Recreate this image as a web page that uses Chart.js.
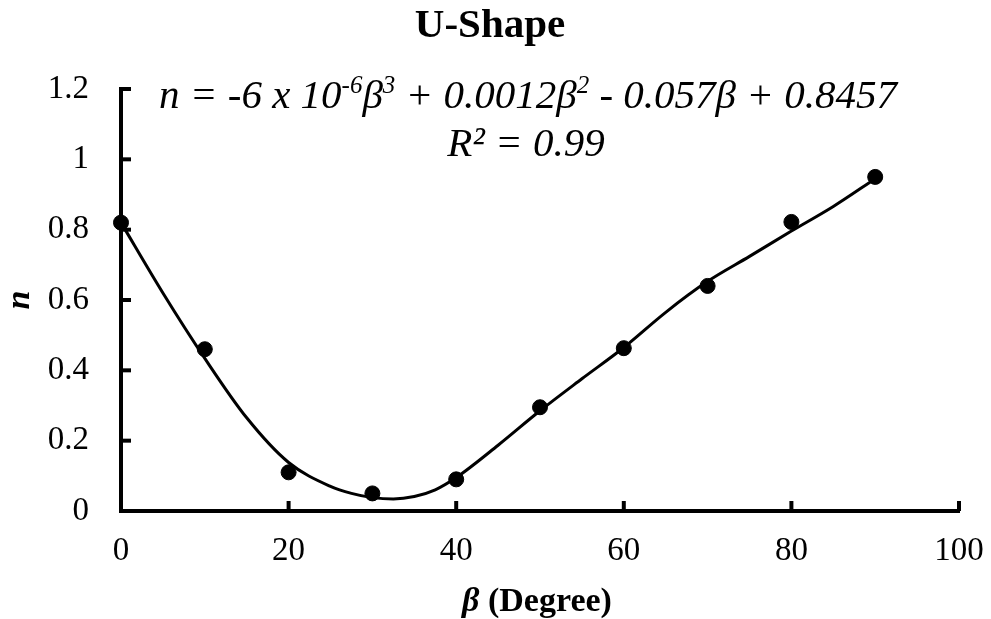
<!DOCTYPE html>
<html>
<head>
<meta charset="utf-8">
<title>U-Shape</title>
<script src="https://cdn.jsdelivr.net/npm/chart.js@4.4.1/dist/chart.umd.min.js"></script>
<style>
  html, body { margin: 0; padding: 0; background: #fff; }
  #wrap { width: 991px; height: 619px; }
</style>
</head>
<body>
<div id="wrap"><canvas id="uShapeChart" width="991" height="619"></canvas></div>
<script>
// measured n at each inclination angle
const angles = [0, 10, 20, 30, 40, 50, 60, 70, 80, 90];
const nValues = [0.82, 0.46, 0.11, 0.05, 0.09, 0.295, 0.463, 0.64, 0.822, 0.95];

// smoothed trend line through the measurements
const fitAngles = [0, 5, 10, 15, 20, 25, 27.5, 30, 32.5, 35, 37.5, 40, 45, 50, 55, 60, 65, 70, 75, 80, 85, 90];
const fitValues = [0.82, 0.62, 0.434, 0.265, 0.138, 0.07, 0.05, 0.038, 0.034, 0.041, 0.06, 0.095, 0.187, 0.285, 0.376, 0.465, 0.565, 0.653, 0.724, 0.796, 0.866, 0.945];

const xTicks = [0, 20, 40, 60, 80, 100];
const yTicks = [0, 0.2, 0.4, 0.6, 0.8, 1, 1.2];

const SERIF = '"Liberation Serif", "Times New Roman", serif';

// tick marks pointing into the plot area
const innerTicks = {
  id: 'innerTicks',
  afterDraw(chart) {
    const {ctx, chartArea, scales} = chart;
    ctx.save();
    ctx.strokeStyle = '#000';
    ctx.lineWidth = 4;
    ctx.lineCap = 'butt';
    yTicks.slice(1).forEach(v => {
      const y = scales.y.getPixelForValue(v);
      ctx.beginPath();
      ctx.moveTo(chartArea.left, y);
      ctx.lineTo(chartArea.left + 10, y);
      ctx.stroke();
    });
    xTicks.slice(1).forEach(v => {
      const x = scales.x.getPixelForValue(v);
      ctx.beginPath();
      ctx.moveTo(x, chartArea.bottom);
      ctx.lineTo(x, chartArea.bottom - 10);
      ctx.stroke();
    });
    ctx.restore();
  }
};

// title, x axis title with italic beta, and the regression equation
const textLayer = {
  id: 'textLayer',
  afterDraw(chart) {
    const {ctx, chartArea} = chart;
    ctx.save();
    ctx.fillStyle = '#000';
    ctx.textBaseline = 'alphabetic';

    ctx.textAlign = 'center';
    ctx.font = 'bold 41px ' + SERIF;
    ctx.fillText('U-Shape', 490, 37);

    ctx.textAlign = 'left';
    // "β (Degree)"
    const fBeta = 'italic bold 34px ' + SERIF;
    const fRest = 'bold 34px ' + SERIF;
    ctx.font = fBeta;
    const wBeta = ctx.measureText('β').width;
    ctx.font = fRest;
    const wRest = ctx.measureText(' (Degree)').width;
    let x = (chartArea.left + chartArea.right) / 2 - 3 - (wBeta + wRest) / 2;
    ctx.font = fBeta;
    ctx.fillText('β', x, 611);
    ctx.font = fRest;
    ctx.fillText(' (Degree)', x + wBeta, 611);

    // equation, runs of [text, superscript?]
    const size = 41;
    const runs = [
      ['n = -6 x 10', false], ['-6', true], ['β', false], ['3', true],
      [' + 0.0012β', false], ['2', true], [' - 0.057β + 0.8457', false]
    ];
    const base = 'italic ' + size + 'px ' + SERIF;
    const sup = 'italic ' + Math.round(size * 0.6) + 'px ' + SERIF;
    let total = 0;
    runs.forEach(([t, s]) => { ctx.font = s ? sup : base; total += ctx.measureText(t).width; });
    x = 528 - total / 2;
    runs.forEach(([t, s]) => {
      ctx.font = s ? sup : base;
      ctx.fillText(t, x, s ? 108 - size * 0.36 : 108);
      x += ctx.measureText(t).width;
    });
    ctx.font = base;
    ctx.textAlign = 'center';
    ctx.fillText('R² = 0.99', 526, 156);
    ctx.restore();
  }
};

new Chart(document.getElementById('uShapeChart'), {
  type: 'scatter',
  data: {
    datasets: [
      {
        label: 'n',
        data: angles.map((a, i) => ({x: a, y: nValues[i]})),
        backgroundColor: '#000',
        borderColor: '#000',
        pointRadius: 7.5,
        pointHoverRadius: 7.5,
        clip: false
      },
      {
        label: 'trend',
        data: fitAngles.map((a, i) => ({x: a, y: fitValues[i]})),
        showLine: true,
        borderColor: '#000',
        borderWidth: 3,
        pointRadius: 0,
        cubicInterpolationMode: 'monotone',
        fill: false,
        clip: false
      }
    ]
  },
  options: {
    responsive: false,
    animation: false,
    devicePixelRatio: 1,
    layout: { padding: { left: 0, right: 32, top: 89, bottom: 0 } },
    plugins: {
      legend: { display: false },
      tooltip: { enabled: false },
      title: { display: false }
    },
    scales: {
      x: {
        type: 'linear',
        min: 0,
        max: 100,
        afterBuildTicks: s => { s.ticks = xTicks.map(v => ({value: v})); },
        afterFit: s => { s.height = 108; s.paddingLeft = 0; s.paddingRight = 0; },
        grid: { display: false, drawTicks: false },
        border: { display: true, width: 4, color: '#000' },
        ticks: {
          color: '#000',
          padding: 21,
          maxRotation: 0,
          font: { family: SERIF, size: 33 }
        }
      },
      y: {
        type: 'linear',
        min: 0,
        max: 1.2,
        afterBuildTicks: s => { s.ticks = yTicks.map(v => ({value: v})); },
        afterFit: s => { s.width = 121; },
        grid: { display: false, drawTicks: false },
        border: { display: true, width: 4, color: '#000' },
        title: {
          display: true,
          text: 'n',
          color: '#000',
          font: { family: SERIF, size: 34, style: 'italic', weight: 'bold' },
          padding: { top: 0, bottom: 0 }
        },
        ticks: {
          color: '#000',
          padding: 32,
          font: { family: SERIF, size: 33 },
          callback: v => String(Math.round(v * 10) / 10)
        }
      }
    }
  },
  plugins: [innerTicks, textLayer]
});
</script>
</body>
</html>
